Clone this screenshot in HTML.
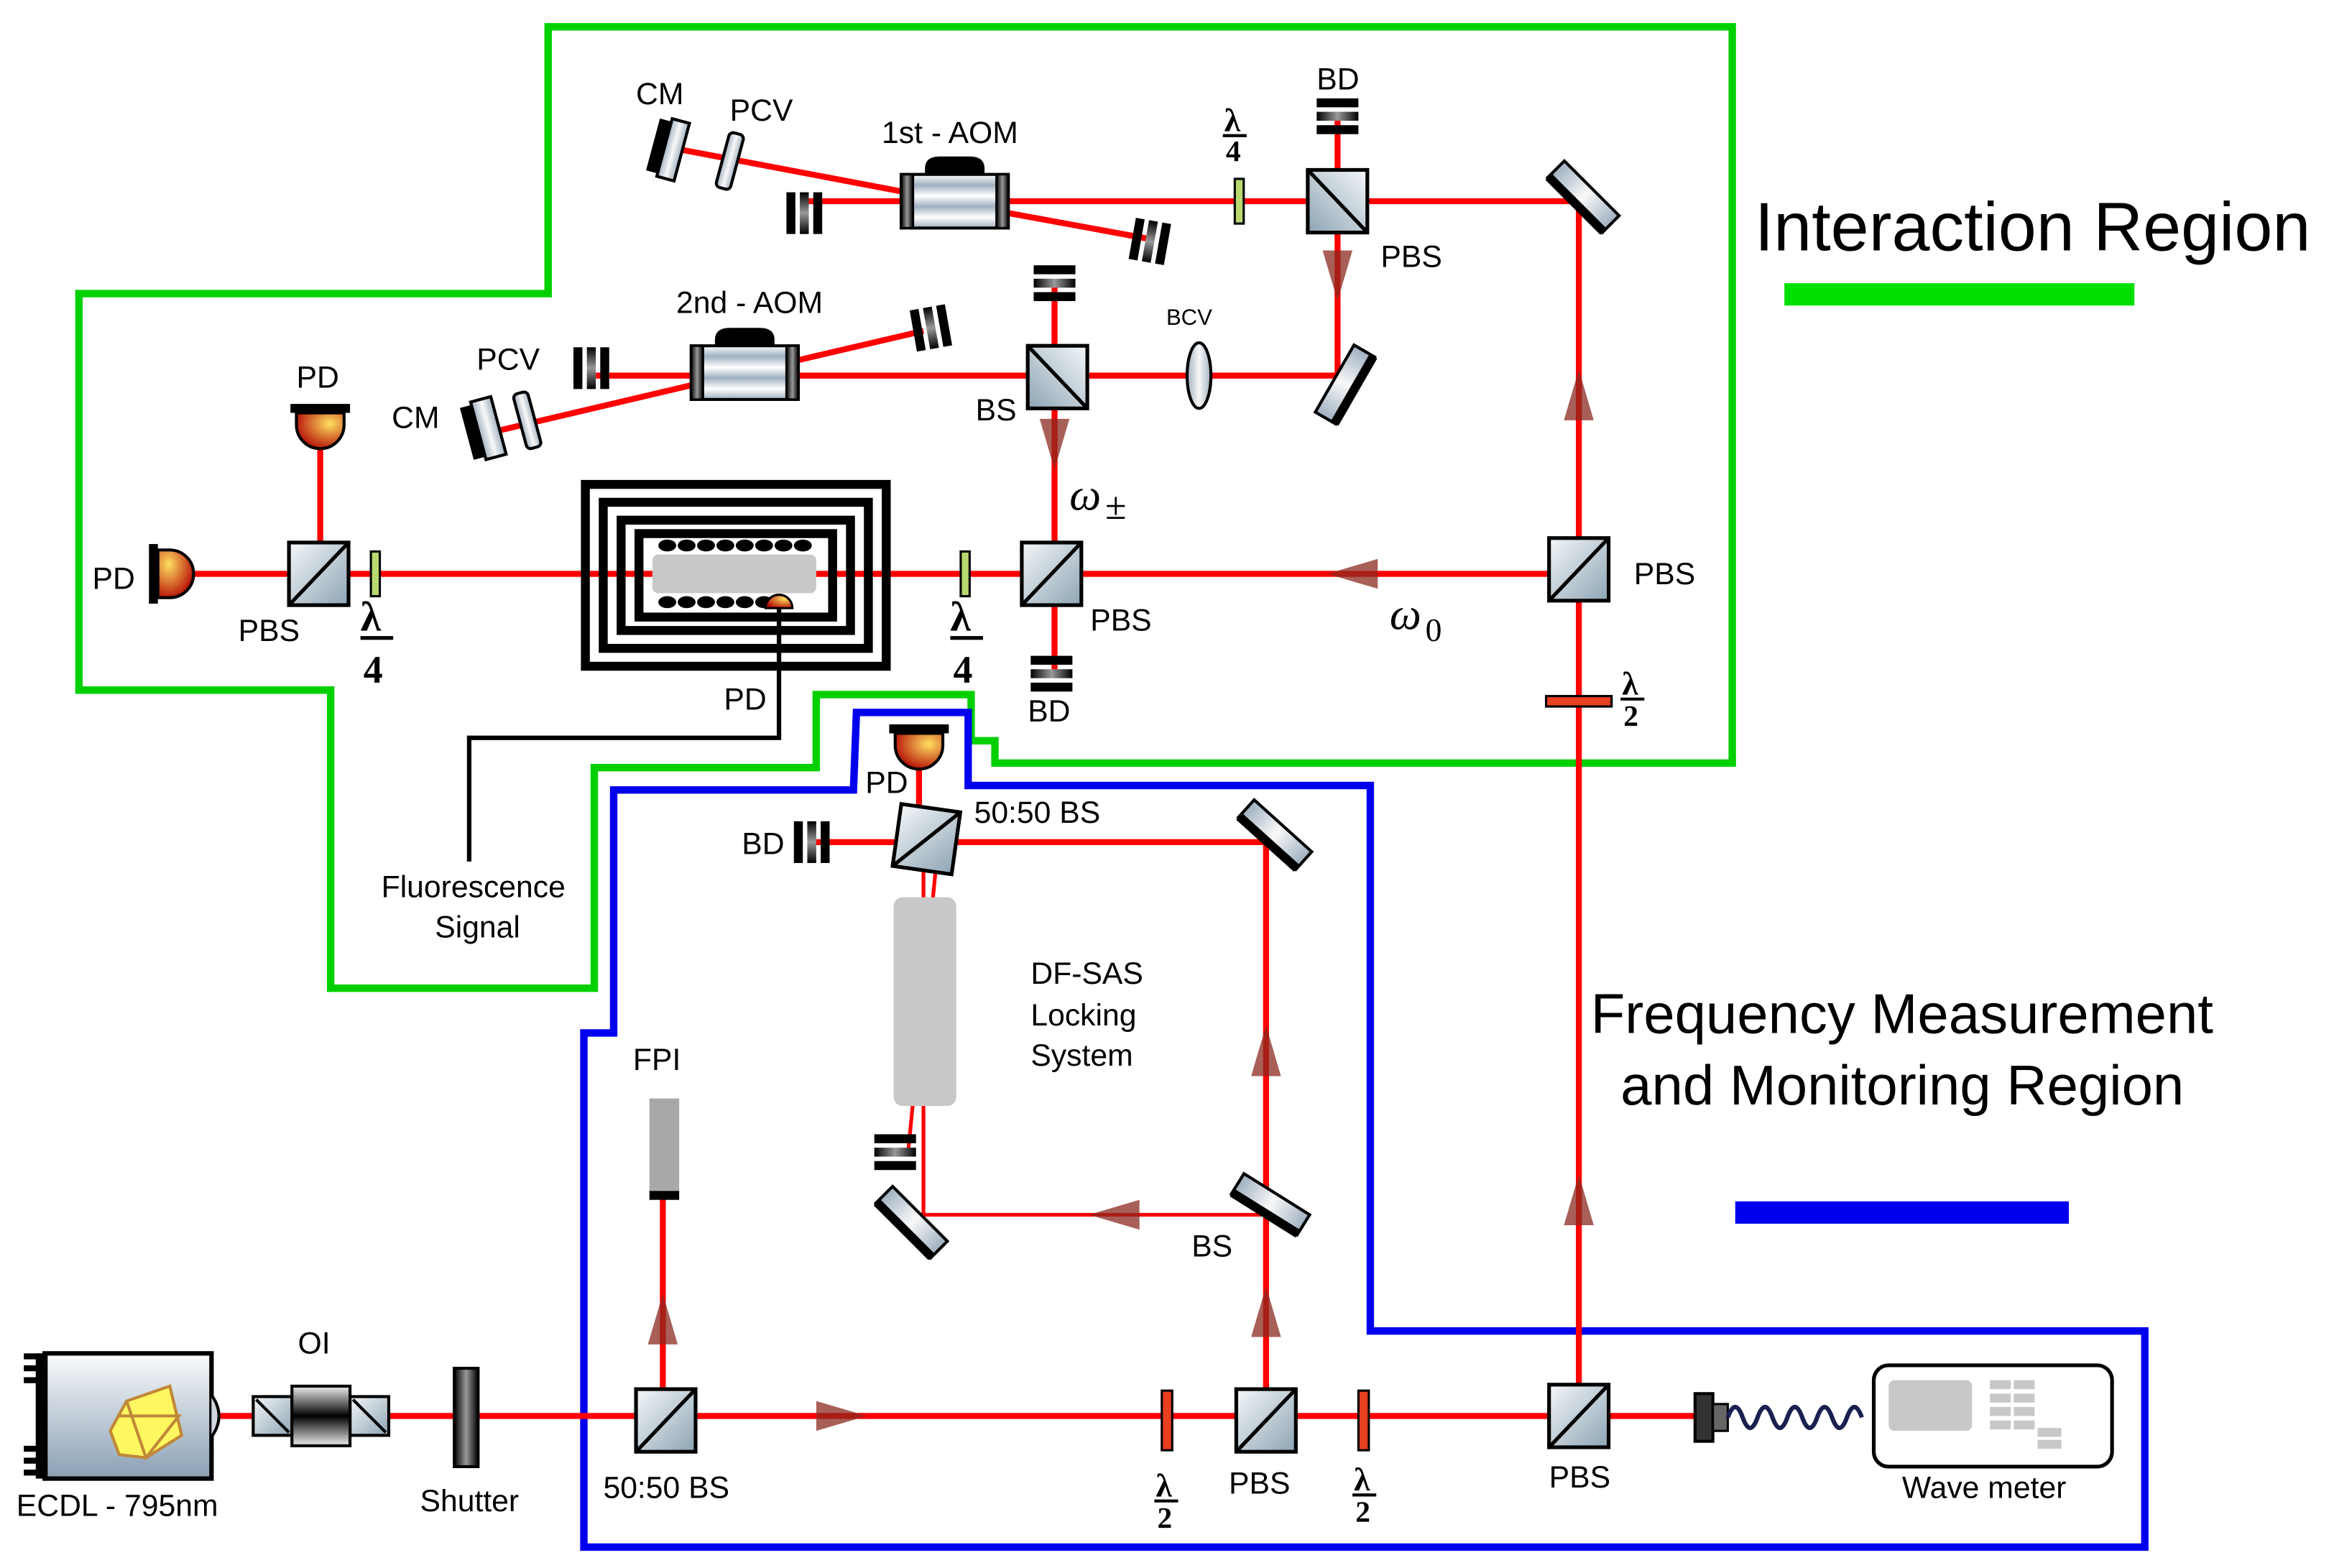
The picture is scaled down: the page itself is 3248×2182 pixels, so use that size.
<!DOCTYPE html>
<html><head><meta charset="utf-8"><style>
html,body{margin:0;padding:0;background:#fff;}
svg{display:block;}
text{font-family:"Liberation Sans",sans-serif;fill:#000;}
.s{font-family:"Liberation Serif",serif;}
</style></head><body>
<svg width="3248" height="2182" viewBox="0 0 1567 1052" preserveAspectRatio="none" xmlns="http://www.w3.org/2000/svg">
<defs>
<linearGradient id="cube" x1="0" y1="0" x2="1" y2="1"><stop offset="0" stop-color="#f4f7f9"/><stop offset="1" stop-color="#8ea4b4"/></linearGradient>
<linearGradient id="cube2" x1="1" y1="0" x2="0" y2="1"><stop offset="0" stop-color="#f4f7f9"/><stop offset="1" stop-color="#8ea4b4"/></linearGradient>
<linearGradient id="ecdl" x1="0" y1="0" x2="0" y2="1"><stop offset="0" stop-color="#fafbfc"/><stop offset="1" stop-color="#8aa0b4"/></linearGradient>
<linearGradient id="blk" x1="0" y1="0" x2="0" y2="1"><stop offset="0" stop-color="#eee"/><stop offset="0.5" stop-color="#000"/><stop offset="1" stop-color="#eee"/></linearGradient>
<linearGradient id="blkh" x1="0" y1="0" x2="1" y2="0"><stop offset="0" stop-color="#000"/><stop offset="0.5" stop-color="#999"/><stop offset="1" stop-color="#000"/></linearGradient>
<linearGradient id="aom" x1="0" y1="0" x2="0" y2="1"><stop offset="0" stop-color="#fff"/><stop offset="0.2" stop-color="#9fb0c0"/><stop offset="0.4" stop-color="#fff"/><stop offset="0.6" stop-color="#9fb0c0"/><stop offset="0.8" stop-color="#fff"/><stop offset="1" stop-color="#9fb0c0"/></linearGradient>
<radialGradient id="pd" cx="0.7" cy="0.3" r="0.8"><stop offset="0" stop-color="#ffe060"/><stop offset="1" stop-color="#b00000"/></radialGradient>
<linearGradient id="mir" x1="0" y1="0" x2="1" y2="0"><stop offset="0" stop-color="#9fb0c0"/><stop offset="0.5" stop-color="#f8f8f8"/><stop offset="1" stop-color="#9fb0c0"/></linearGradient>
<g id="cubeL"><rect x="-20" y="-21" width="40" height="42" fill="url(#cube)" stroke="#000" stroke-width="2.5"/><line x1="-20" y1="21" x2="20" y2="-21" stroke="#000" stroke-width="2.5"/></g>
<g id="cubeR"><rect x="-20" y="-21" width="40" height="42" fill="url(#cube2)" stroke="#000" stroke-width="2.5"/><line x1="-20" y1="-21" x2="20" y2="21" stroke="#000" stroke-width="2.5"/></g>
<g id="mirror"><rect x="-26" y="-8" width="52" height="16" fill="url(#mir)" stroke="#000" stroke-width="2"/><rect x="-26" y="4" width="52" height="6" fill="#000"/></g>
<g id="bd"><rect x="-14" y="-12" width="28" height="6" fill="#000"/><rect x="-14" y="-3" width="28" height="6" fill="url(#blkh)"/><rect x="-14" y="6" width="28" height="6" fill="#000"/></g>
<g id="arr"><polygon points="0,-17 -10,17 10,17" fill="#8b2a20" fill-opacity="0.75"/></g>
<g id="pdU"><rect x="-20" y="-14" width="40" height="6" fill="#000"/><path d="M-16,-8 L16,-8 L16,0 A16,16 0 0 1 -16,0 Z" fill="url(#pd)" stroke="#000" stroke-width="2"/></g>
<g id="wp"><rect x="-3" y="-15" width="6" height="30" fill="#b8d870" stroke="#000" stroke-width="1.5"/></g>
<g id="wpr"><rect x="-3" y="-20" width="7" height="40" fill="#e84020" stroke="#000" stroke-width="1.5"/></g>
</defs>

<polygon points="368,18 1163,18 1163,512 668,512 668,497 652,497 652,466 548,466 548,515 399,515 399,663 222,663 222,463 53,463 53,197 368,197" fill="none" stroke="#00d000" stroke-width="5"/>
<polygon points="575,478 650,478 650,527 920,527 920,893 1440,893 1440,1038 392,1038 392,693 412,693 412,530 573,530" fill="none" stroke="#0000ee" stroke-width="5"/>

<g stroke="#ff0000" stroke-width="4" fill="none">
<line x1="148" y1="950" x2="1140" y2="950"/>
<line x1="1060" y1="950" x2="1060" y2="135"/>
<line x1="1060" y1="135" x2="540" y2="135"/>
<line x1="898" y1="80" x2="898" y2="252"/>
<line x1="898" y1="252" x2="400" y2="252"/>
<line x1="640" y1="135" x2="455" y2="100"/>
<line x1="650" y1="138" x2="770" y2="160"/>
<line x1="500" y1="250" x2="620" y2="222"/>
<line x1="500" y1="250" x2="330" y2="290"/>
<line x1="708" y1="190" x2="708" y2="450"/>
<line x1="1060" y1="385" x2="110" y2="385"/>
<line x1="215" y1="285" x2="215" y2="385"/>
<line x1="445" y1="950" x2="445" y2="800"/>
<line x1="850" y1="950" x2="850" y2="565"/>
<line x1="850" y1="565" x2="545" y2="565"/>
<line x1="617" y1="500" x2="617" y2="545"/>
</g>
<g stroke="#ff0000" stroke-width="2.5" fill="none">
<line x1="850" y1="815" x2="620" y2="815"/>
<line x1="620" y1="815" x2="620" y2="565"/>
<line x1="630" y1="565" x2="610" y2="770"/>
</g>

<rect x="600" y="602" width="42" height="140" rx="6" fill="#c8c8c8"/>

<g fill="none" stroke="#000" stroke-width="6">
<rect x="393" y="325" width="202" height="122"/>
<rect x="405" y="337" width="178" height="98"/>
<rect x="417" y="349" width="154" height="74"/>
<rect x="429" y="358" width="130" height="56"/>
</g>
<rect x="438" y="372" width="110" height="26" rx="4" fill="#c8c8c8"/>
<g fill="#000">
<ellipse cx="448" cy="366" rx="6" ry="4"/><ellipse cx="461" cy="366" rx="6" ry="4"/><ellipse cx="474" cy="366" rx="6" ry="4"/><ellipse cx="487" cy="366" rx="6" ry="4"/><ellipse cx="500" cy="366" rx="6" ry="4"/><ellipse cx="513" cy="366" rx="6" ry="4"/><ellipse cx="526" cy="366" rx="6" ry="4"/><ellipse cx="539" cy="366" rx="6" ry="4"/>
<ellipse cx="448" cy="404" rx="6" ry="4"/><ellipse cx="461" cy="404" rx="6" ry="4"/><ellipse cx="474" cy="404" rx="6" ry="4"/><ellipse cx="487" cy="404" rx="6" ry="4"/><ellipse cx="500" cy="404" rx="6" ry="4"/><ellipse cx="513" cy="404" rx="6" ry="4"/>
</g>
<path d="M514,408 A9,9 0 0 1 532,408 Z" fill="url(#pd)" stroke="#000" stroke-width="1.5"/>
<polyline points="523,408 523,495 315,495 315,578" fill="none" stroke="#000" stroke-width="3"/>

<use href="#cubeL" x="214" y="385"/>
<use href="#cubeL" x="706" y="385"/>
<use href="#cubeL" x="1060" y="382"/>
<use href="#cubeR" x="898" y="135"/>
<use href="#cubeR" x="710" y="253"/>
<use href="#cubeL" x="447" y="953"/>
<use href="#cubeL" x="850" y="953"/>
<use href="#cubeL" x="1060" y="950"/>
<g transform="translate(622,563) rotate(8)"><use href="#cubeL"/></g>

<g transform="translate(1063,132) rotate(45)"><use href="#mirror"/></g>
<g transform="translate(903,258) rotate(-60)"><use href="#mirror"/></g>
<g transform="translate(856,560) rotate(42)"><use href="#mirror"/></g>
<g transform="translate(853,808) rotate(32)"><use href="#mirror"/></g>
<g transform="translate(612,820) rotate(45)"><use href="#mirror"/></g>

<use href="#bd" x="898" y="78"/>
<use href="#bd" x="708" y="190"/>
<use href="#bd" x="706" y="452"/>
<use href="#bd" x="601" y="773"/>
<g transform="translate(540,143) rotate(90)"><use href="#bd"/></g>
<g transform="translate(772,162) rotate(100)"><use href="#bd"/></g>
<g transform="translate(625,220) rotate(80)"><use href="#bd"/></g>
<g transform="translate(397,247) rotate(90)"><use href="#bd"/></g>
<g transform="translate(545,565) rotate(90)"><use href="#bd"/></g>

<g transform="translate(641,135)">
<path d="M-20,-18 L-20,-22 Q-20,-30 -10,-30 L10,-30 Q20,-30 20,-22 L20,-18 Z" fill="#000"/>
<rect x="-36" y="-18" width="72" height="36" fill="url(#aom)" stroke="#000" stroke-width="2"/>
<rect x="-36" y="-18" width="8" height="36" fill="url(#blkh)" stroke="#000" stroke-width="1.5"/>
<rect x="28" y="-18" width="8" height="36" fill="url(#blkh)" stroke="#000" stroke-width="1.5"/>
</g>
<g transform="translate(500,250)">
<path d="M-20,-18 L-20,-22 Q-20,-30 -10,-30 L10,-30 Q20,-30 20,-22 L20,-18 Z" fill="#000"/>
<rect x="-36" y="-18" width="72" height="36" fill="url(#aom)" stroke="#000" stroke-width="2"/>
<rect x="-36" y="-18" width="8" height="36" fill="url(#blkh)" stroke="#000" stroke-width="1.5"/>
<rect x="28" y="-18" width="8" height="36" fill="url(#blkh)" stroke="#000" stroke-width="1.5"/>
</g>

<g transform="translate(490,108) rotate(15)"><rect x="-5" y="-19" width="10" height="38" rx="3" fill="url(#mir)" stroke="#000" stroke-width="2"/></g>
<g transform="translate(450,100) rotate(15)"><rect x="-4" y="-20" width="12" height="40" fill="url(#mir)" stroke="#000" stroke-width="2"/><rect x="-12" y="-18" width="8" height="36" fill="#000"/></g>
<g transform="translate(354,282) rotate(-15)"><rect x="-5" y="-19" width="10" height="38" rx="3" fill="url(#mir)" stroke="#000" stroke-width="2"/></g>
<g transform="translate(325,288) rotate(-15)"><rect x="-4" y="-20" width="14" height="40" fill="url(#mir)" stroke="#000" stroke-width="2"/><rect x="-12" y="-18" width="8" height="36" fill="#000"/></g>
<ellipse cx="805" cy="252" rx="8" ry="22" fill="url(#mir)" stroke="#000" stroke-width="2"/>

<use href="#pdU" x="215" y="285"/>
<use href="#pdU" x="617" y="500"/>
<g transform="translate(114,385) rotate(-90)"><use href="#pdU"/></g>

<use href="#wp" x="832" y="135"/>
<use href="#wp" x="252" y="385"/>
<use href="#wp" x="648" y="385"/>
<g transform="translate(1060,470) rotate(90)"><rect x="-3" y="-22" width="7" height="44" fill="#e84020" stroke="#000" stroke-width="1.5"/></g>
<use href="#wpr" x="783" y="953"/>
<use href="#wpr" x="915" y="953"/>

<g transform="translate(565,950) rotate(90)"><use href="#arr"/></g>
<use href="#arr" x="445" y="885"/>
<use href="#arr" x="850" y="880"/>
<use href="#arr" x="850" y="705"/>
<use href="#arr" x="1060" y="805"/>
<use href="#arr" x="1060" y="265"/>
<g transform="translate(748,815) rotate(-90)"><use href="#arr"/></g>
<g transform="translate(908,385) rotate(-90)"><use href="#arr"/></g>
<g transform="translate(898,185) rotate(180)"><use href="#arr"/></g>
<g transform="translate(708,298) rotate(180)"><use href="#arr"/></g>

<rect x="436" y="737" width="20" height="62" fill="#a8a8a8"/>
<rect x="436" y="799" width="20" height="6" fill="#000"/>

<rect x="30" y="908" width="112" height="84" fill="url(#ecdl)" stroke="#000" stroke-width="3"/>
<rect x="24" y="908" width="8" height="84" fill="#000"/>
<g fill="#000"><rect x="16" y="908" width="14" height="4"/><rect x="16" y="916" width="14" height="4"/><rect x="16" y="924" width="14" height="4"/><rect x="16" y="970" width="14" height="4"/><rect x="16" y="978" width="14" height="4"/><rect x="16" y="986" width="14" height="4"/></g>
<path d="M142,936 Q152,950 142,964" fill="#cfd8e0" stroke="#000" stroke-width="2"/>
<polygon points="85,940 114,930 122,963 98,978 80,976 74,960" fill="#fff860" stroke="#c08838" stroke-width="2"/>
<polyline points="80,950 120,950 98,978 85,940" fill="none" stroke="#c08838" stroke-width="2"/>

<rect x="170" y="937" width="26" height="26" fill="url(#cube)" stroke="#000" stroke-width="2"/>
<line x1="172" y1="939" x2="194" y2="961" stroke="#000" stroke-width="2"/>
<rect x="235" y="937" width="26" height="26" fill="url(#cube)" stroke="#000" stroke-width="2"/>
<line x1="237" y1="939" x2="259" y2="961" stroke="#000" stroke-width="2"/>
<rect x="196" y="930" width="39" height="40" fill="url(#blk)" stroke="#000" stroke-width="2"/>
<rect x="305" y="918" width="16" height="66" fill="url(#blkh)" stroke="#000" stroke-width="2"/>

<rect x="1138" y="935" width="12" height="32" fill="#333" stroke="#000" stroke-width="2"/>
<rect x="1150" y="942" width="10" height="18" fill="#666" stroke="#000" stroke-width="1.5"/>
<path d="M1160,951 q5,-14 10,0 q5,14 10,0 q5,-14 10,0 q5,14 10,0 q5,-14 10,0 q5,14 10,0 q5,-14 10,0 q5,14 10,0 q5,-14 10,0" fill="none" stroke="#1a2050" stroke-width="3"/>
<rect x="1258" y="916" width="160" height="68" rx="10" fill="#fff" stroke="#000" stroke-width="2.5"/>
<rect x="1268" y="926" width="56" height="34" rx="4" fill="#c8c8c8"/>
<g fill="#c8c8c8"><rect x="1336" y="926" width="14" height="6"/><rect x="1352" y="926" width="14" height="6"/><rect x="1336" y="935" width="14" height="6"/><rect x="1352" y="935" width="14" height="6"/><rect x="1336" y="944" width="14" height="6"/><rect x="1352" y="944" width="14" height="6"/><rect x="1336" y="953" width="14" height="6"/><rect x="1352" y="953" width="14" height="6"/><rect x="1368" y="958" width="16" height="6"/><rect x="1368" y="966" width="16" height="6"/></g>

<rect x="1198" y="190" width="235" height="15" fill="#00e000"/>
<rect x="1165" y="806" width="224" height="15" fill="#0000ee"/>

<g font-size="20.6">
<text x="427" y="70">CM</text>
<text x="490" y="81">PCV</text>
<text x="592" y="96">1st - AOM</text>
<text x="884" y="60">BD</text>
<text x="927" y="179">PBS</text>
<text x="454" y="210">2nd - AOM</text>
<text x="320" y="248">PCV</text>
<text x="263" y="287">CM</text>
<text x="199" y="260">PD</text>
<text x="655" y="282">BS</text>
<text x="62" y="395">PD</text>
<text x="160" y="430">PBS</text>
<text x="732" y="423">PBS</text>
<text x="1097" y="392">PBS</text>
<text x="690" y="484">BD</text>
<text x="486" y="476">PD</text>
<text x="256" y="602">Fluorescence</text>
<text x="292" y="629">Signal</text>
<text x="581" y="532">PD</text>
<text x="654" y="552">50:50 BS</text>
<text x="498" y="573">BD</text>
<text x="692" y="660">DF-SAS</text>
<text x="692" y="688">Locking</text>
<text x="692" y="715">System</text>
<text x="425" y="718">FPI</text>
<text x="800" y="843">BS</text>
<text x="200" y="908">OI</text>
<text x="11" y="1017">ECDL - 795nm</text>
<text x="282" y="1014">Shutter</text>
<text x="405" y="1005">50:50 BS</text>
<text x="825" y="1002">PBS</text>
<text x="1040" y="998">PBS</text>
<text x="1277" y="1005">Wave meter</text>
</g>
<text x="783" y="218" font-size="15">BCV</text>
<text x="1178" y="168" font-size="46">Interaction Region</text>
<text x="1068" y="693" font-size="37.6">Frequency Measurement</text>
<text x="1088" y="741" font-size="37.6">and Monitoring Region</text>
<text x="718" y="342" font-size="30" class="s" font-style="italic">ω</text><text x="742" y="348" font-size="26" class="s">±</text>
<text x="933" y="422" font-size="30" class="s" font-style="italic">ω</text><text x="957" y="430" font-size="22" class="s">0</text>

<g class="s" font-weight="bold">
<text x="822" y="88" font-size="22" class="s">λ</text><line x1="821" y1="91" x2="837" y2="91" stroke="#000" stroke-width="2"/><text x="823" y="108" font-size="20" class="s">4</text>
<text x="242" y="423" font-size="28" class="s">λ</text><line x1="242" y1="428" x2="264" y2="428" stroke="#000" stroke-width="2.5"/><text x="244" y="458" font-size="26" class="s">4</text>
<text x="638" y="423" font-size="28" class="s">λ</text><line x1="638" y1="428" x2="660" y2="428" stroke="#000" stroke-width="2.5"/><text x="640" y="458" font-size="26" class="s">4</text>
<text x="1089" y="466" font-size="22" class="s">λ</text><line x1="1088" y1="469" x2="1104" y2="469" stroke="#000" stroke-width="2"/><text x="1090" y="487" font-size="20" class="s">2</text>
<text x="776" y="1004" font-size="22" class="s">λ</text><line x1="775" y1="1007" x2="791" y2="1007" stroke="#000" stroke-width="2"/><text x="777" y="1025" font-size="20" class="s">2</text>
<text x="909" y="1000" font-size="22" class="s">λ</text><line x1="908" y1="1003" x2="924" y2="1003" stroke="#000" stroke-width="2"/><text x="910" y="1021" font-size="20" class="s">2</text>
</g>
</svg>
</body></html>
